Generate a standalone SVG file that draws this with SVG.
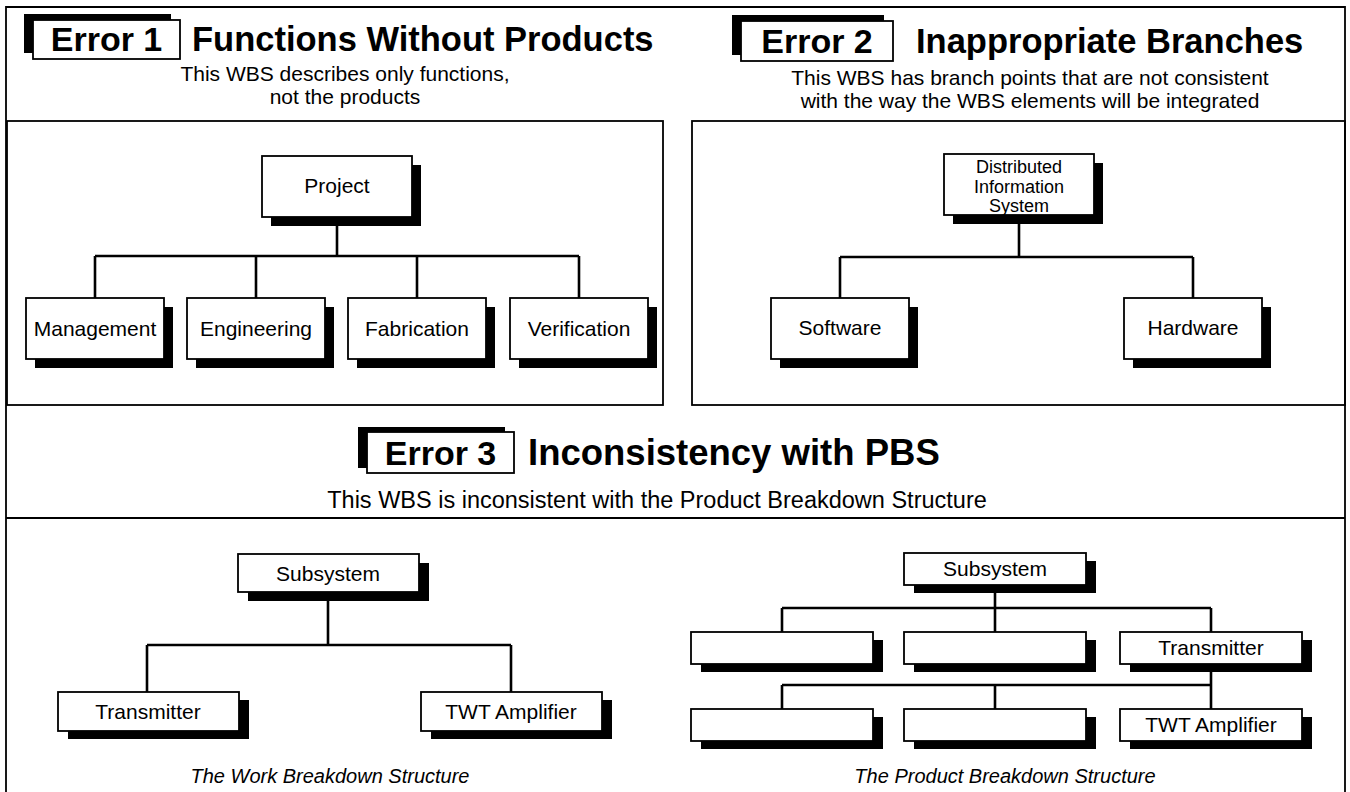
<svg xmlns="http://www.w3.org/2000/svg" width="1350" height="792" viewBox="0 0 1350 792">
<style>
  .frame{fill:none;stroke:#000;stroke-width:1.8}
  .box{fill:#fff;stroke:#000;stroke-width:1.8}
  .shadow{fill:#000}
  .conn{fill:none;stroke:#000;stroke-width:2.6}
  text{font-family:"Liberation Sans",Arial,Helvetica,sans-serif;fill:#000}
  .hdr{font-size:34px;font-weight:bold;text-anchor:middle}
  .title{font-size:34.5px;font-weight:bold}
  .sub{font-size:21px;text-anchor:middle}
  .sub3{font-size:23.5px;text-anchor:middle}
  .node{font-size:21px;text-anchor:middle}
  .small{font-size:18px;text-anchor:middle}
  .cap{font-size:20px;font-style:italic;text-anchor:middle}
</style>
<rect width="1350" height="792" fill="#fff"/>
<g id="frames">
  <path class="frame" d="M6,800 V7 H1345 V800"/>
  <rect class="frame" x="7" y="121" width="656" height="284"/>
  <rect class="frame" x="692" y="121" width="653" height="284"/>
  <path class="frame" d="M6,518 H1345"/>
</g>
<g id="header1">
  <rect class="shadow" x="24" y="14" width="147" height="39"/>
  <rect class="box" x="33" y="20" width="147" height="39"/>
  <text class="hdr" x="106.5" y="51">Error 1</text>
  <text class="title" x="192" y="51">Functions Without Products</text>
  <text class="sub" x="345" y="81">This WBS describes only functions,</text>
  <text class="sub" x="345" y="104">not the products</text>
</g>
<g id="header2">
  <rect class="shadow" x="732" y="15" width="152" height="40"/>
  <rect class="box" x="741" y="21" width="152" height="40"/>
  <text class="hdr" x="817" y="53">Error 2</text>
  <text class="title" x="916" y="53">Inappropriate Branches</text>
  <text class="sub" x="1030" y="85">This WBS has branch points that are not consistent</text>
  <text class="sub" x="1030" y="108">with the way the WBS elements will be integrated</text>
</g>
<g id="header3">
  <rect class="shadow" x="358" y="427" width="147" height="41"/>
  <rect class="box" x="367" y="432" width="147" height="41"/>
  <text class="hdr" x="440.5" y="465">Error 3</text>
  <text class="title" x="528" y="465" style="font-size:36.5px">Inconsistency with PBS</text>
  <text class="sub3" x="657" y="508">This WBS is inconsistent with the Product Breakdown Structure</text>
</g>
<g id="connectors">
  <path class="conn" d="M337,217 V256 M95,256 H579 M95,256 V298 M256,256 V298 M417,256 V298 M579,256 V298"/>
  <path class="conn" d="M1019,215 V257 M840,257 H1193 M840,257 V298 M1193,257 V298"/>
  <path class="conn" d="M328,592 V645 M147,645 H511 M147,645 V692 M511,645 V692"/>
  <path class="conn" d="M995,585 V608 M782,608 H1211 M782,608 V632 M995,608 V632 M1211,608 V632 M1211,664 V709 M782,685 H1211 M782,685 V709 M995,685 V709"/>
</g>
<g id="project">
  <rect class="shadow" x="271" y="165" width="150" height="61"/>
  <rect class="box" x="262" y="156" width="150" height="61"/>
  <text class="node" x="337" y="193">Project</text>
</g>
<g id="management">
  <rect class="shadow" x="35" y="307" width="138" height="61"/>
  <rect class="box" x="26" y="298" width="138" height="61"/>
  <text class="node" x="95" y="336">Management</text>
</g>
<g id="engineering">
  <rect class="shadow" x="196" y="307" width="138" height="61"/>
  <rect class="box" x="187" y="298" width="138" height="61"/>
  <text class="node" x="256" y="336">Engineering</text>
</g>
<g id="fabrication">
  <rect class="shadow" x="357" y="307" width="138" height="61"/>
  <rect class="box" x="348" y="298" width="138" height="61"/>
  <text class="node" x="417" y="336">Fabrication</text>
</g>
<g id="verification">
  <rect class="shadow" x="519" y="307" width="138" height="61"/>
  <rect class="box" x="510" y="298" width="138" height="61"/>
  <text class="node" x="579" y="336">Verification</text>
</g>
<g id="dis">
  <rect class="shadow" x="953" y="163" width="150" height="61"/>
  <rect class="box" x="944" y="154" width="150" height="61"/>
  <text class="small" x="1019" y="173">Distributed</text>
  <text class="small" x="1019" y="193">Information</text>
  <text class="small" x="1019" y="212">System</text>
</g>
<g id="software">
  <rect class="shadow" x="780" y="307" width="138" height="61"/>
  <rect class="box" x="771" y="298" width="138" height="61"/>
  <text class="node" x="840" y="335">Software</text>
</g>
<g id="hardware">
  <rect class="shadow" x="1133" y="307" width="138" height="61"/>
  <rect class="box" x="1124" y="298" width="138" height="61"/>
  <text class="node" x="1193" y="335">Hardware</text>
</g>
<g id="wbs-subsystem">
  <rect class="shadow" x="248" y="563" width="181" height="38"/>
  <rect class="box" x="238" y="554" width="181" height="38"/>
  <text class="node" x="328" y="581">Subsystem</text>
</g>
<g id="wbs-transmitter">
  <rect class="shadow" x="68" y="700" width="181" height="39"/>
  <rect class="box" x="58" y="692" width="181" height="39"/>
  <text class="node" x="148" y="719">Transmitter</text>
</g>
<g id="wbs-twt">
  <rect class="shadow" x="431" y="700" width="181" height="39"/>
  <rect class="box" x="421" y="692" width="181" height="39"/>
  <text class="node" x="511" y="719">TWT Amplifier</text>
</g>
<text class="cap" x="330" y="783">The Work Breakdown Structure</text>
<g id="pbs-subsystem">
  <rect class="shadow" x="914" y="561" width="182" height="32"/>
  <rect class="box" x="904" y="553" width="182" height="32"/>
  <text class="node" x="995" y="576">Subsystem</text>
</g>
<g id="pbs-a1">
  <rect class="shadow" x="701" y="640" width="182" height="32"/>
  <rect class="box" x="691" y="632" width="182" height="32"/>
</g>
<g id="pbs-b1">
  <rect class="shadow" x="914" y="640" width="182" height="32"/>
  <rect class="box" x="904" y="632" width="182" height="32"/>
</g>
<g id="pbs-transmitter">
  <rect class="shadow" x="1130" y="640" width="182" height="32"/>
  <rect class="box" x="1120" y="632" width="182" height="32"/>
  <text class="node" x="1211" y="655">Transmitter</text>
</g>
<g id="pbs-a2">
  <rect class="shadow" x="701" y="717" width="182" height="32"/>
  <rect class="box" x="691" y="709" width="182" height="32"/>
</g>
<g id="pbs-b2">
  <rect class="shadow" x="914" y="717" width="182" height="32"/>
  <rect class="box" x="904" y="709" width="182" height="32"/>
</g>
<g id="pbs-twt">
  <rect class="shadow" x="1130" y="717" width="182" height="32"/>
  <rect class="box" x="1120" y="709" width="182" height="32"/>
  <text class="node" x="1211" y="732">TWT Amplifier</text>
</g>
<text class="cap" x="1005" y="783">The Product Breakdown Structure</text>
</svg>
